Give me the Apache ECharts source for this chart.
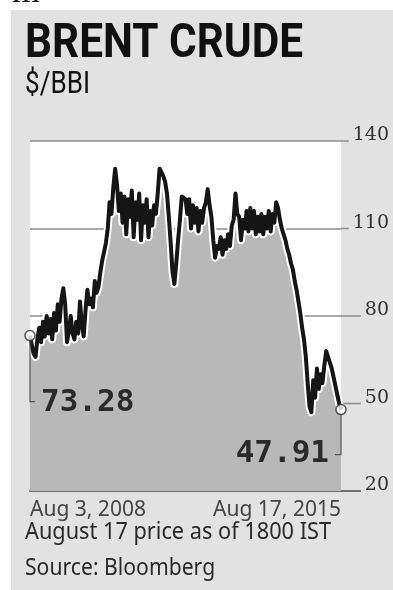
<!DOCTYPE html>
<html><head><meta charset="utf-8">
<script src="https://cdn.jsdelivr.net/npm/echarts@6/dist/echarts.min.js"></script>
<style>
html,body{margin:0;padding:0;background:#fff;overflow:hidden;}
#panel{position:absolute;left:11px;top:10px;width:382px;height:580px;background:#e2e2e2;}
#chart{position:absolute;left:0;top:0;width:393px;height:590px;}
</style></head><body>
<div id="panel"></div><div id="chart"></div>
<script>
// ---- data ----
const firstDate = 'Aug 3, 2008';
const lastDate = 'Aug 17, 2015';
const prices = [
  73.28, 70, 67, 66, 72, 76, 71, 78, 73, 80,
  74, 79, 72, 81, 75, 84, 78, 86, 89.5, 84,
  71, 75, 80, 74, 72, 78, 74, 85, 77, 73,
  82, 89, 84, 86, 83, 92, 88, 90, 95, 99,
  102, 105, 110, 119, 115, 124, 130.5, 125, 116, 122,
  112, 121, 108, 120, 114, 123, 107, 119, 113, 122,
  106, 118, 112, 120, 107, 116, 111, 118, 115, 122,
  130.5, 130, 128, 126, 122, 114, 105, 95, 91, 98,
  106, 113, 121, 121, 120, 115, 120, 110, 118, 112,
  117, 109, 116, 112, 117, 119, 123.5, 118, 114, 106,
  100, 104, 103, 107, 101, 106, 103, 108, 104, 111,
  113, 122, 115, 114, 106, 113, 110, 116, 109, 117,
  110, 116, 108, 114, 109, 115, 108, 114, 110, 116,
  109, 115, 112, 119, 117, 113, 110, 108, 106, 103,
  101, 98, 96, 92, 89, 85, 81, 76, 72, 66,
  57, 49, 47, 58, 52, 62, 55, 60, 57, 63,
  68, 66, 64, 62, 59, 56, 53, 50, 47.91
];
const yTicks = [20, 50, 80, 110, 140];
const title = 'BRENT CRUDE';
const unit = '$/BBI';
const note = 'August 17 price as of 1800 IST';
const source = 'Source: Bloomberg';
const startLabel = '73.28';
const endLabel = '47.91';

// category labels: semi-monthly dates between first and last
const t0 = Date.UTC(2008, 7, 3), t1 = Date.UTC(2015, 7, 17);
const months = ['Jan','Feb','Mar','Apr','May','Jun','Jul','Aug','Sep','Oct','Nov','Dec'];
const categories = prices.map((_, i) => {
  if (i === 0) return firstDate;
  if (i === prices.length - 1) return lastDate;
  const d = new Date(t0 + (t1 - t0) * i / (prices.length - 1));
  return months[d.getUTCMonth()] + ' ' + d.getUTCDate() + ', ' + d.getUTCFullYear();
});

const chart = echarts.init(document.getElementById('chart'), null, {renderer: 'canvas'});
const last = prices.length - 1;

function measure(text, font) {
  const c = document.createElement('canvas').getContext('2d');
  c.font = font;
  return c.measureText(text).width;
}

chart.setOption({
  animation: false,
  backgroundColor: 'transparent',
  grid: {left: 30, right: 52, top: 141, bottom: 99, show: true, backgroundColor: '#ffffff', borderWidth: 0},
  xAxis: {
    type: 'category', data: categories, boundaryGap: false,
    axisLine: {show: true, lineStyle: {color: '#707070', width: 2}},
    axisTick: {show: false},
    splitLine: {show: false},
    axisLabel: {
      interval: (i) => i === 0 || i === last,
      showMinLabel: true, showMaxLabel: true,
      alignMinLabel: 'left', alignMaxLabel: 'right',
      fontFamily: 'Noto Sans', fontSize: 21, color: '#444', margin: 9
    }
  },
  yAxis: {
    type: 'value', min: 20, max: 140, interval: 30, position: 'right',
    axisLine: {show: false}, axisTick: {show: false},
    splitLine: {show: true, lineStyle: {color: '#8c8c8c', width: 1.5}},
    axisLabel: {fontFamily: 'DejaVu Serif', fontSize: 19, color: '#333', align: 'right', margin: 48,
      verticalAlign: 'bottom', lineHeight: 11}
  },
  series: [
    {type: 'line', data: prices, symbol: 'none', z: 2,
     lineStyle: {color: '#ffffff', width: 8, join: 'round'},
     areaStyle: {color: '#b8b8b8', opacity: 1, origin: 'start'}},
    {type: 'line', data: prices, symbol: 'none', z: 3,
     lineStyle: {color: '#151515', width: 4, join: 'round'}},
    {type: 'scatter', z: 5, symbolSize: 10,
     data: [[0, prices[0]], [last, prices[last]]],
     itemStyle: {color: '#ffffff', borderColor: '#333', borderWidth: 1.5}}
  ]
});

const p0 = chart.convertToPixel({gridIndex: 0}, [0, prices[0]]);
const p1 = chart.convertToPixel({gridIndex: 0}, [last, prices[last]]);
const gridRight = p1[0];

const g = [];
// partial glyph at very top (cropped text from the page above)
g.push({type: 'text', x: 12, y: -25, style: {text: 'm', font: '36px "Liberation Serif"', fill: '#111', verticalAlign: 'top'}});
// title
const titleFont = 'bold 49px Roboto';
g.push({type: 'text', x: 25, y: 20, scaleX: 278 / measure(title, titleFont),
  style: {text: title, font: titleFont, fill: '#111', verticalAlign: 'top'}});
const unitFont = '32px Roboto';
g.push({type: 'text', x: 25, y: 69, scaleX: 65 / measure(unit, unitFont),
  style: {text: unit, font: unitFont, fill: '#111', verticalAlign: 'top'}});
// footer
const noteFont = '23px "Noto Sans"';
g.push({type: 'text', x: 25, y: 521, scaleX: 306 / measure(note, noteFont),
  style: {text: note, font: noteFont, fill: '#2a2a2a', verticalAlign: 'top'}});
g.push({type: 'text', x: 25, y: 557, scaleX: 0.92,
  style: {text: source, font: noteFont, fill: '#2a2a2a', verticalAlign: 'top'}});

// gridline extensions to the labels
const labFont = '19px "DejaVu Serif"';
yTicks.forEach(v => {
  const y = chart.convertToPixel({yAxisIndex: 0}, v);
  const w = measure(String(v), labFont);
  g.push({type: 'line', z: 1, shape: {x1: gridRight, y1: y, x2: 389 - w - 4, y2: y},
    style: {stroke: v === 20 ? '#707070' : '#8c8c8c', lineWidth: v === 20 ? 2 : 1.5}});
});

// callouts
const valFont = 'bold 31px "DejaVu Sans Mono"';
g.push({type: 'polyline', z: 4, shape: {points: [[p0[0], p0[1] + 5], [p0[0], p0[1] + 66], [p0[0] + 5, p0[1] + 66]]},
  style: {stroke: '#555', lineWidth: 1.2, fill: null}});
g.push({type: 'text', z: 4, x: p0[0] + 11, y: p0[1] + 52,
  style: {text: startLabel, font: valFont, fill: '#2a2a2a', verticalAlign: 'top'}});
g.push({type: 'polyline', z: 4, shape: {points: [[p1[0], p1[1] + 5], [p1[0], p1[1] + 45], [p1[0] - 6, p1[1] + 45]]},
  style: {stroke: '#555', lineWidth: 1.2, fill: null}});
g.push({type: 'text', z: 4, x: p1[0] - 12, y: p1[1] + 29,
  style: {text: endLabel, font: valFont, fill: '#2a2a2a', verticalAlign: 'top', align: 'right'}});

chart.setOption({graphic: g});
</script>
</body></html>
